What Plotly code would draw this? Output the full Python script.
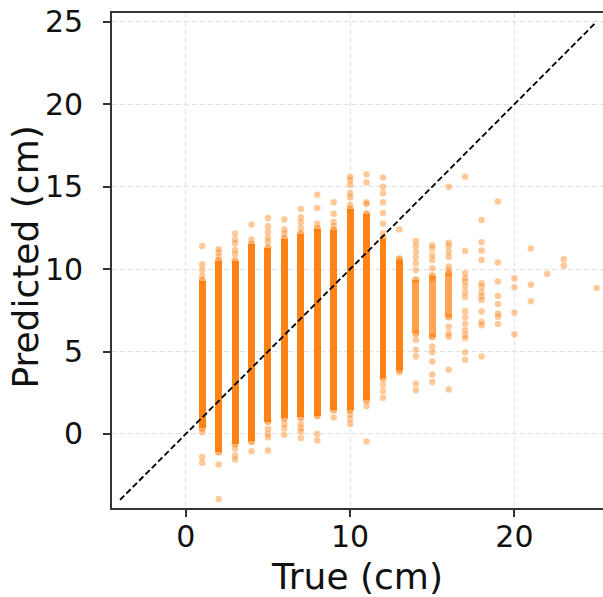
import plotly.graph_objects as go

# ---- data ----
true_vals = list(range(1, 26))

# dense core of each column (low, high) where points overlap into a solid bar
core_true = [1, 2, 3, 4, 5, 6, 7, 8, 9, 10, 11, 12, 13, 14, 15, 16]
core_low = [0.35, -1.1, -0.6, -0.45, 0.75, 0.95, 1.0, 1.1, 1.45, 1.45, 2.05, 3.4, 3.9, 6.1, 5.9, 7.1]
core_high = [9.3, 10.5, 10.5, 11.5, 11.3, 11.85, 12.15, 12.45, 12.35, 13.65, 13.35, 11.85, 10.55, 9.35, 9.6, 9.75]

# individual (scattered) predictions per true value
scatter_pts = {
    1: [11.4, 10.3, 9.95, 9.6, 0.1, -1.4, -1.75],
    2: [11.2, 11.0, 10.75, -1.85, -3.95],
    3: [12.15, 11.8, 11.55, 11.15, 10.9, -0.9, -1.3, -1.55],
    4: [12.7, 11.8, -1.05],
    5: [13.1, 12.6, 12.25, 11.9, 11.65, 0.3, 0.0, -0.2, -1.0],
    6: [13.0, 12.4, 12.15, 0.6, 0.35, -0.05],
    7: [13.65, 13.15, 12.85, 12.5, 0.6, 0.35, 0.15, -0.25],
    8: [14.5, 13.7, 12.75, 0.0, -0.4],
    9: [14.05, 13.35, 12.85, 12.6, 1.0],
    10: [15.6, 15.4, 15.1, 14.6, 14.35, 13.9, 1.2, 0.9, 0.6],
    11: [15.75, 15.25, 14.05, 13.95, 1.7, -0.45],
    12: [15.55, 15.0, 14.6, 14.05, 13.4, 12.75, 12.15, 3.0, 2.6, 2.2],
    13: [12.4, 10.65, 3.75],
    14: [11.7, 11.4, 11.05, 10.7, 10.35, 9.95, 5.7, 5.1, 4.7, 3.05, 2.65],
    15: [11.45, 11.25, 10.85, 10.55, 10.05, 9.4, 5.3, 4.95, 4.4, 3.6, 3.15],
    16: [15.0, 11.6, 11.4, 11.05, 10.75, 10.15, 9.95, 6.5, 6.1, 5.9, 3.9, 2.7],
    17: [15.6, 11.1, 9.75, 9.45, 9.25, 8.95, 8.6, 8.3, 7.45, 7.1, 6.7, 6.3, 6.0, 5.8, 4.95, 4.5],
    18: [12.98, 11.63, 11.12, 10.55, 9.14, 8.93, 8.6, 8.33, 8.13, 7.42, 6.8, 6.6, 4.7],
    19: [14.1, 10.4, 9.24, 8.37, 7.88, 7.3, 7.11, 6.67],
    20: [9.45, 8.9, 7.35, 6.05],
    21: [11.25, 9.05, 8.05],
    22: [9.7],
    23: [10.6, 10.2],
    25: [8.85],
}

diag = [-4, 25]
x_ticks = [0, 10, 20]
y_ticks = [0, 5, 10, 15, 20, 25]
x_title = "True (cm)"
y_title = "Predicted (cm)"

# ---- figure ----
ORANGE = "#ff7f0e"
core_opacity = [0.97] * 13 + [0.75, 0.7, 0.7]

fig = go.Figure()

for t, lo, hi, op in zip(core_true, core_low, core_high, core_opacity):
    fig.add_trace(go.Bar(
        x=[t], y=[hi - lo], base=[lo], width=0.42,
        marker=dict(color=ORANGE, line=dict(width=0)), opacity=op,
        showlegend=False, hoverinfo="skip",
    ))
    # rounded, faded ends of the dense column
    fig.add_trace(go.Scatter(
        x=[t, t], y=[lo, hi], mode="markers",
        marker=dict(size=7, color="rgba(255,127,14,0.6)", line=dict(width=0)),
        showlegend=False, hoverinfo="skip",
    ))

sx, sy = [], []
for t in true_vals:
    for v in scatter_pts.get(t, []):
        sx.append(t)
        sy.append(v)

fig.add_trace(go.Scatter(
    x=sx, y=sy, mode="markers",
    marker=dict(size=6.5, color="rgba(255,127,14,0.42)", line=dict(width=0)),
    showlegend=False,
))

fig.add_trace(go.Scatter(
    x=diag, y=diag, mode="lines",
    line=dict(color="black", width=1.9, dash="6px,3px"),
    showlegend=False,
))

axis_common = dict(
    showline=True, linecolor="#333333", linewidth=1.6,
    ticks="outside", ticklen=7, tickwidth=1.5, tickcolor="#333333",
    showgrid=True, gridcolor="#e2e2e2", gridwidth=1, griddash="5px,3px",
    zeroline=False, automargin=False,
    tickfont=dict(family="DejaVu Sans", size=30, color="#111111"),
    title_font=dict(family="DejaVu Sans", size=36, color="#111111"),
)

fig.update_layout(
    width=603, height=597,
    margin=dict(l=112, r=0, t=13, b=89),
    paper_bgcolor="white", plot_bgcolor="white",
    barmode="overlay", bargap=0,
    xaxis=dict(range=[-4.49, 25.39], tickvals=x_ticks, mirror=True,
               title=dict(text=x_title, standoff=14),
               ticklabelstandoff=-6, **axis_common),
    yaxis=dict(range=[-4.49, 25.53], tickvals=y_ticks,
               ticklabelstandoff=14, **axis_common),
    annotations=[dict(
        text=y_title, textangle=-90, showarrow=False,
        xref="paper", yref="paper", x=-0.177, y=0.506,
        xanchor="center", yanchor="middle",
        font=dict(family="DejaVu Sans", size=36, color="#111111"),
    )],
)

# remove the page's default 8px body margin so the figure fills the window
fig.write_html(
    "out.html",
    config={"displayModeBar": False},
    post_script="document.body.style.margin='0';document.body.style.overflow='hidden';",
)
